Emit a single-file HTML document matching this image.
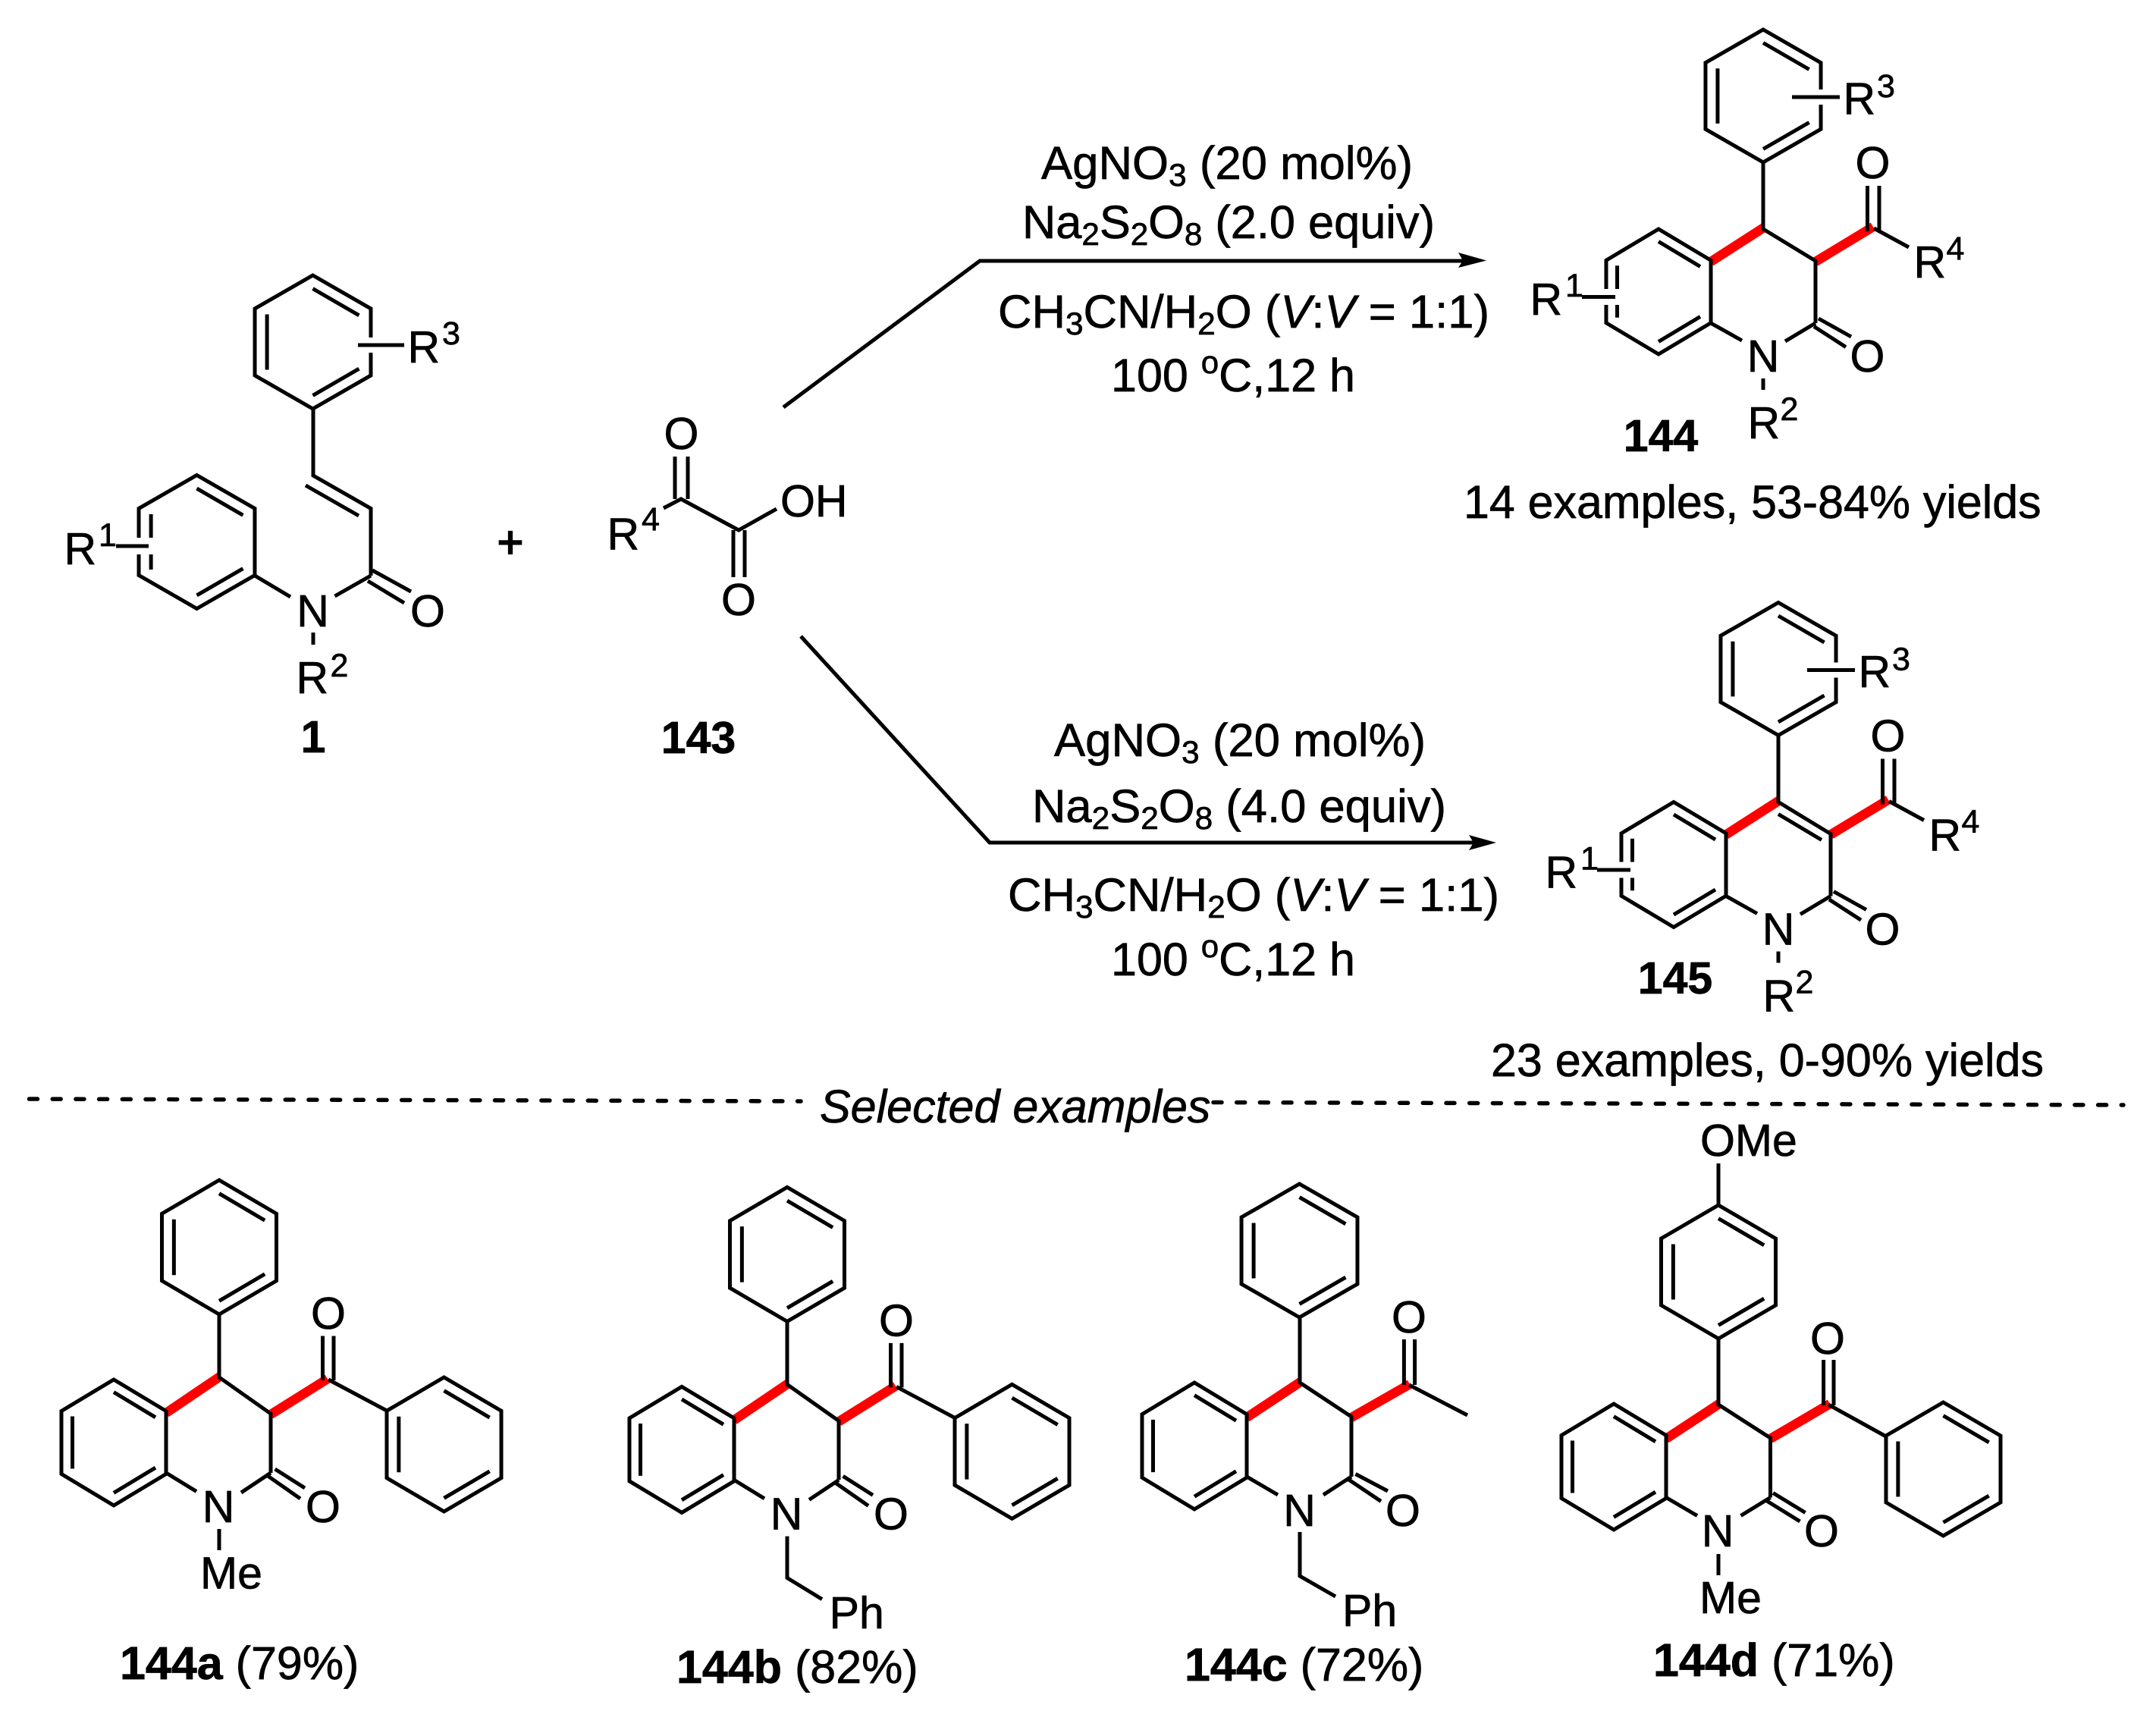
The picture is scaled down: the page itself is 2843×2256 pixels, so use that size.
<!DOCTYPE html>
<html><head><meta charset="utf-8"><style>
html,body{margin:0;padding:0;background:#fff;width:2843px;height:2256px;overflow:hidden}
svg{display:block}
text{font-family:"Liberation Sans",Arial,sans-serif;fill:#000;stroke:#000;stroke-width:.7}
.a{font-size:59px}.s{font-size:43px;text-anchor:middle}.m{font-size:59px;text-anchor:middle}
.b{font-weight:700}.c{font-size:61px}.sub{font-size:42px}.l{font-size:61px}
.k{fill:none;stroke:#000;stroke-width:5}
.r{fill:none;stroke:#f00;stroke-width:12.5}
</style></head><body>
<svg width="2843" height="2256" viewBox="0 0 2843 2256" xmlns="http://www.w3.org/2000/svg">
<rect width="2843" height="2256" fill="#fff"/>
<defs>
<g id="h" fill="none" stroke="#000" stroke-linejoin="miter">
<path vector-effect="non-scaling-stroke" stroke-width="5" d="M0-1L.866-.5V.5L0 1L-.866.5V-.5Z"/>
<path vector-effect="non-scaling-stroke" stroke-width="5" d="M0-.8L.69-.4M0 .8L.69 .4M-.684-.415V.415"/>
</g>
<g id="m144a">
<path class="r" d="M219 1863L290 1815M357 1865L432 1818"/>
<use href="#h" transform="translate(289,1644.5) scale(87.2,88.5)"/>
<use href="#h" transform="translate(150,1902) scale(79.7,83)"/>
<use href="#h" transform="translate(585.5,1904.5) scale(87.2,88.5)"/>
<path class="k" d="M289 1733V1816L357 1864V1942M219 1862V1942L259 1966.5M357 1942L318 1968M362.6 1937L402 1962M353 1946L396 1976M425.5 1761.5V1820M440 1761.5V1820M433 1819L510 1860"/>
</g>
</defs>

<!-- compound 1 -->
<use href="#h" transform="translate(412.5,451) scale(88.3,88)"/>
<use href="#h" transform="translate(259.5,714.5) scale(88.3,88)"/>
<rect x="476" y="445" width="26" height="20" fill="#fff"/>
<rect x="174" y="709" width="34" height="22" fill="#fff"/>
<path class="k" d="M472 455H533M153 720H196M413 539V627L489 670.5V759M403 640L473 680M491 752L542 780M485 766L533 795M489 759L441.5 786M336 759L383 787M413 834V850"/>
<text class="a" x="84.5" y="744">R</text><text class="s" x="142" y="720">1</text>
<text class="a" x="537.5" y="478">R</text><text class="s" x="595" y="454">3</text>
<text class="a" x="390.5" y="914">R</text><text class="s" x="447.5" y="892">2</text>
<text class="m" x="412.5" y="826">N</text><text class="m" x="564" y="826">O</text>
<text class="m b" x="413" y="992">1</text>
<text class="m" x="673" y="735" style="stroke-width:2">+</text>

<!-- compound 143 -->
<path class="k" d="M890 602V658M907 602V658M875 670L898 658L974 699L1024 671M967 699V761M982 699V761"/>
<text class="m" x="898.5" y="592">O</text><text class="m" x="974" y="811">O</text>
<text class="a" x="1029" y="681">OH</text>
<text class="a" x="800.5" y="724.5">R</text><text class="s" x="858" y="699">4</text>
<text class="m b" x="921" y="993">143</text>

<!-- arrows -->
<path class="k" d="M1033 537L1292 344H1930M1056 839L1305 1111H1943"/>
<path d="M1960 343.5L1923 333L1929 343.5L1923 353Z M1973 1111L1937 1101L1943 1111L1937 1121Z" fill="#000"/>

<!-- conditions -->
<text class="c" x="1373" y="236" textLength="490" lengthAdjust="spacingAndGlyphs">AgNO<tspan class="sub" dy="9">3</tspan><tspan dy="-9"> (20 mol%)</tspan></text>
<text class="c" x="1348" y="314" textLength="544" lengthAdjust="spacingAndGlyphs">Na<tspan class="sub" dy="9">2</tspan><tspan dy="-9">S</tspan><tspan class="sub" dy="9">2</tspan><tspan dy="-9">O</tspan><tspan class="sub" dy="9">8</tspan><tspan dy="-9"> (2.0 equiv)</tspan></text>
<text class="c" x="1316" y="432" textLength="648" lengthAdjust="spacingAndGlyphs">CH<tspan class="sub" dy="9">3</tspan><tspan dy="-9">CN/H</tspan><tspan class="sub" dy="9">2</tspan><tspan dy="-9">O (</tspan><tspan font-style="italic">V</tspan>:<tspan font-style="italic">V</tspan> = 1:1)</text>
<text class="c" x="1465" y="516" textLength="322" lengthAdjust="spacingAndGlyphs">100 <tspan class="sub" dy="-24">o</tspan><tspan dy="24">C,12 h</tspan></text>
<text class="c" x="1390" y="997" textLength="490" lengthAdjust="spacingAndGlyphs">AgNO<tspan class="sub" dy="9">3</tspan><tspan dy="-9"> (20 mol%)</tspan></text>
<text class="c" x="1361" y="1084" textLength="546" lengthAdjust="spacingAndGlyphs">Na<tspan class="sub" dy="9">2</tspan><tspan dy="-9">S</tspan><tspan class="sub" dy="9">2</tspan><tspan dy="-9">O</tspan><tspan class="sub" dy="9">8</tspan><tspan dy="-9"> (4.0 equiv)</tspan></text>
<text class="c" x="1329" y="1201" textLength="648" lengthAdjust="spacingAndGlyphs">CH<tspan class="sub" dy="9">3</tspan><tspan dy="-9">CN/H</tspan><tspan class="sub" dy="9">2</tspan><tspan dy="-9">O (</tspan><tspan font-style="italic">V</tspan>:<tspan font-style="italic">V</tspan> = 1:1)</text>
<text class="c" x="1465" y="1286" textLength="322" lengthAdjust="spacingAndGlyphs">100 <tspan class="sub" dy="-24">o</tspan><tspan dy="24">C,12 h</tspan></text>

<!-- compound 144 -->
<path class="r" d="M2256 345L2326 300M2394 345L2470 299"/>
<use href="#h" transform="translate(2325,126.5) scale(87.8,87.5)"/>
<use href="#h" transform="translate(2187,384.5) scale(79.7,82.5)"/>
<rect x="2390" y="118" width="24" height="20" fill="#fff"/>
<rect x="2108" y="381" width="34" height="21" fill="#fff"/>
<path class="k" d="M2363 128H2426M2086 391.5H2130M2325 214V302L2394 344V426M2256 344V426L2297 449M2394 426L2354 450M2398 420L2441 444M2392 430.5L2434 457.6M2462.5 245V305M2478 245V305M2471 301L2517 326M2325 499V514"/>
<text class="a" x="2017.5" y="415">R</text><text class="s" x="2076" y="391">1</text>
<text class="a" x="2430.5" y="150.5">R</text><text class="s" x="2487" y="128">3</text>
<text class="a" x="2523.5" y="366">R</text><text class="s" x="2578.5" y="342">4</text>
<text class="a" x="2304.5" y="578">R</text><text class="s" x="2359.5" y="554">2</text>
<text class="m" x="2325" y="490">N</text><text class="m" x="2469.5" y="235">O</text><text class="m" x="2462.5" y="490">O</text>
<text class="m b" x="2190" y="595">144</text>
<text font-size="60.9" x="1930" y="683">14 examples, 53-84% yields</text>

<!-- compound 145 -->
<g transform="translate(20,755.5)">
<path class="r" d="M2256 345L2326 300M2394 345L2470 299"/>
<use href="#h" transform="translate(2325,126.5) scale(87.8,87.5)"/>
<use href="#h" transform="translate(2187,384.5) scale(79.7,82.5)"/>
<rect x="2390" y="118" width="24" height="20" fill="#fff"/>
<rect x="2108" y="381" width="34" height="21" fill="#fff"/>
<path class="k" d="M2363 128H2426M2086 391.5H2130M2325 214V302L2394 344V426M2256 344V426L2297 449M2394 426L2354 450M2398 420L2441 444M2392 430.5L2434 457.6M2462.5 245V305M2478 245V305M2471 301L2517 326M2325 499V514M2325 318L2382 352"/>
<text class="a" x="2017.5" y="415">R</text><text class="s" x="2076" y="391">1</text>
<text class="a" x="2430.5" y="150.5">R</text><text class="s" x="2487" y="128">3</text>
<text class="a" x="2523.5" y="366">R</text><text class="s" x="2578.5" y="342">4</text>
<text class="a" x="2304.5" y="578">R</text><text class="s" x="2359.5" y="554">2</text>
<text class="m" x="2325" y="490">N</text><text class="m" x="2469.5" y="235">O</text><text class="m" x="2462.5" y="490">O</text>
</g>
<text class="m b" x="2209" y="1310">145</text>
<text font-size="61" x="1966" y="1419">23 examples, 0-90% yields</text>

<!-- separator -->
<path d="M38.5 1449L1056 1452" fill="none" stroke="#000" stroke-width="5.5" stroke-linecap="round" stroke-dasharray="11 19.7"/>
<path d="M1600 1453.5L2800 1457" fill="none" stroke="#000" stroke-width="5.5" stroke-linecap="round" stroke-dasharray="11 19.7"/>
<text font-size="61" font-style="italic" x="1081" y="1480">Selected examples</text>

<!-- 144a -->
<use href="#m144a"/>
<path class="k" d="M289 2016V2044"/>
<text class="m" x="288" y="2007">N</text><text class="m" x="426" y="2007">O</text><text class="m" x="433" y="1752">O</text>
<text class="a" x="264" y="2094.5">Me</text>
<text class="l" x="158" y="2214"><tspan class="b">144a</tspan> (79%)</text>

<!-- 144b -->
<use href="#m144a" transform="translate(749,9.4)"/>
<path class="k" d="M1038 2025.6V2080.5L1084 2108.6"/>
<text class="m" x="1037" y="2016.4">N</text><text class="m" x="1175" y="2016.4">O</text><text class="m" x="1182" y="1761.4">O</text>
<text class="a" x="1093.6" y="2147">Ph</text>
<text class="l" x="892" y="2219"><tspan class="b">144b</tspan> (82%)</text>

<!-- 144c -->
<path class="r" d="M1644 1869L1715 1822M1782 1869L1859 1825"/>
<use href="#h" transform="translate(1713.5,1649) scale(88.3,88)"/>
<use href="#h" transform="translate(1575,1906.5) scale(79.7,83.5)"/>
<path class="k" d="M1714 1737V1823L1782 1868V1947M1644 1868V1947L1685 1971M1782 1947L1745 1971M1787.4 1943.5L1830 1966M1778.5 1951L1821 1979.5M1851.4 1766V1826M1865.6 1766V1826M1858 1826L1935 1866M1714 2020V2078L1761 2105"/>
<text class="m" x="1713.5" y="2012">N</text><text class="m" x="1850" y="2012">O</text><text class="m" x="1858" y="1757">O</text>
<text class="a" x="1770" y="2144">Ph</text>
<text class="l" x="1562" y="2216"><tspan class="b">144c</tspan> (72%)</text>

<!-- 144d -->
<path class="r" d="M2197 1897L2267 1851M2334.5 1897L2413 1851"/>
<use href="#h" transform="translate(2266,1677) scale(87.2,88)"/>
<use href="#h" transform="translate(2128,1934) scale(79.7,83)"/>
<use href="#h" transform="translate(2562.5,1937) scale(87.2,88)"/>
<path class="k" d="M2266 1534V1589M2266 1765V1852L2334.5 1896V1974.5M2197 1896V1974.5L2238 1998.5M2334.5 1974.5L2295.5 1998.5M2338 1968.5L2380.6 1994.5M2329 1978.5L2373.5 2006M2404.6 1793V1853M2418 1793V1853M2411 1852L2487 1894M2266 2049V2077"/>
<text class="a" x="2242" y="1524">OMe</text>
<text class="m" x="2265" y="2039">N</text><text class="m" x="2402" y="2039">O</text><text class="m" x="2410" y="1785">O</text>
<text class="a" x="2241" y="2127">Me</text>
<text class="l" x="2180" y="2210"><tspan class="b">144d</tspan> (71%)</text>
</svg>
</body></html>
